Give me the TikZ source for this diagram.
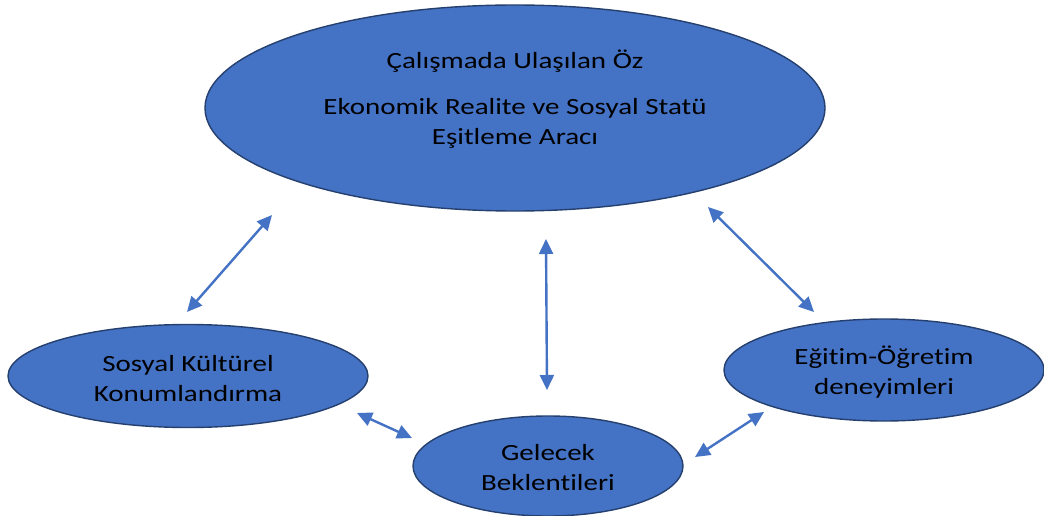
\documentclass[tikz,border=0pt]{standalone}
\usepackage{fontspec}
\setmainfont{Carlito}[FakeStretch=1.25,Ligatures=NoCommon]
\usetikzlibrary{shapes.geometric,arrows.meta}
\definecolor{fillblue}{HTML}{4472C4}
\definecolor{edgeblue}{HTML}{25406E}
\definecolor{arrowblue}{HTML}{4472C4}
\tikzset{
  blob/.style={ellipse, draw=edgeblue, line width=1.4pt, fill=fillblue, inner sep=0pt,
    align=center, text=black, font=\fontsize{23.2}{30}\selectfont},
  link/.style={draw=arrowblue, line width=2.4pt,
    {Triangle[length=15pt,width=14pt]}-{Triangle[length=15pt,width=14pt]}}
}
\newcommand{\shifttext}[2]{\raisebox{#1}[\height][\depth]{\begin{tabular}{@{}c@{}}#2\end{tabular}}}
\begin{document}
\begin{tikzpicture}[x=1pt,y=-1pt]
\clip (0,0) rectangle (1044,516);
\fill[white] (0,0) rectangle (1044,516);
\node[blob, minimum width=620pt, minimum height=206pt] (top) at (515,108)
  {\shifttext{7.5pt}{Çalışmada Ulaşılan Öz\\[17pt] Ekonomik Realite ve Sosyal Statü\\ Eşitleme Aracı}};
\node[blob, minimum width=360pt, minimum height=103pt] (left) at (188,376)
  {\shifttext{-4pt}{Sosyal Kültürel\\ Konumlandırma}};
\node[blob, minimum width=270pt, minimum height=100pt] (bottom) at (548,466)
  {\shifttext{-3pt}{Gelecek\\ Beklentileri}};
\node[blob, minimum width=320pt, minimum height=102pt] (right) at (884,370)
  {\shifttext{-3pt}{Eğitim-Öğretim\\ deneyimleri}};
\coordinate (a1) at (272,215);
\coordinate (a2) at (187,312);
\coordinate (b1) at (546,239);
\coordinate (b2) at (547,390);
\coordinate (c1) at (708,207);
\coordinate (c2) at (814,312);
\coordinate (d1) at (357,413);
\coordinate (d2) at (412,438);
\coordinate (e1) at (764,412);
\coordinate (e2) at (695,457);
\draw[link] (a2) -- (a1);
\draw[link] (b1) -- (b2);
\draw[link] (c1) -- (c2);
\draw[link] (d1) -- (d2);
\draw[link] (e2) -- (e1);
\end{tikzpicture}
\end{document}
